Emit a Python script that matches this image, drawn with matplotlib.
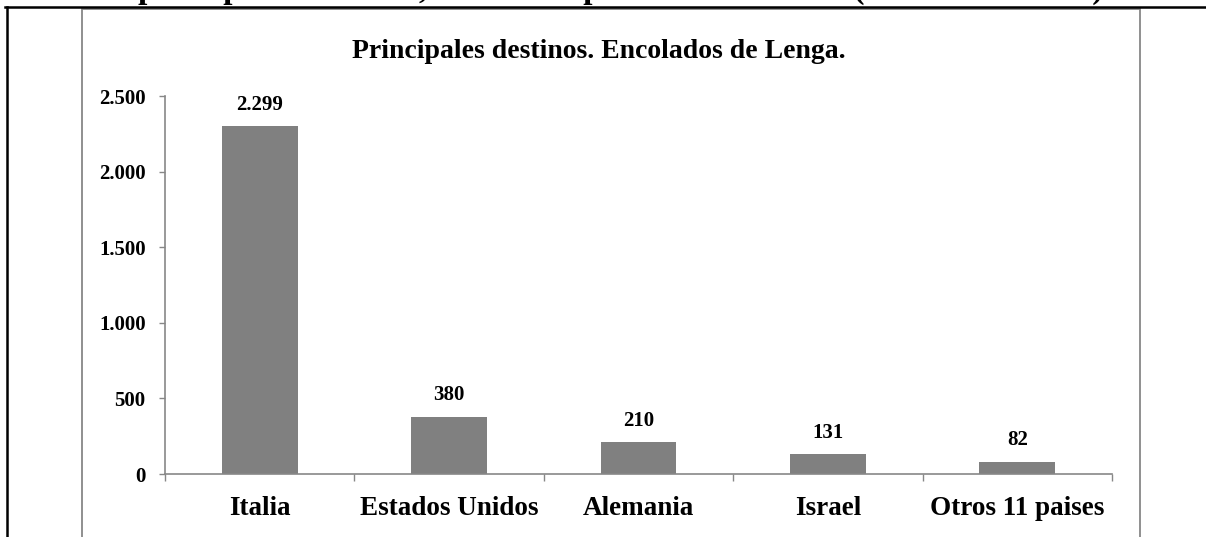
import matplotlib
matplotlib.use("Agg")
import matplotlib.pyplot as plt
from matplotlib.lines import Line2D
from matplotlib.patches import Rectangle

categories = ["Italia", "Estados Unidos", "Alemania", "Israel", "Otros 11 paises"]
values = [2299, 380, 210, 131, 82]
value_labels = ["2.299", "380", "210", "131", "82"]
yticks = [0, 500, 1000, 1500, 2000, 2500]
ytick_labels = ["0", "500", "1.000", "1.500", "2.000", "2.500"]
title = "Principales destinos. Encolados de Lenga."
top_caption = "principales destinos, total en el período 2005-2013 (miles de dólares)."

plt.rcParams['font.family'] = ['Liberation Serif', 'DejaVu Serif']
plt.rcParams['font.weight'] = 'bold'

W, H = 1206, 537
DPI = 100
fig = plt.figure(figsize=(W / DPI, H / DPI), dpi=DPI)

def fx(px):
    return px / W

def fy(py):
    return 1 - py / H

GRAY = "#878787"

# clipped caption at the very top (only its lower part is visible, as in the source)
fig.text(fx(625), fy(-2.5), top_caption, ha="center", va="baseline", fontsize=24,
         fontweight="bold")

# outer table border (black)
fig.add_artist(Line2D([fx(5), fx(1206)], [fy(7), fy(7)], color="black", lw=1.8,
                      transform=fig.transFigure))
fig.add_artist(Line2D([fx(7), fx(7)], [fy(7), fy(540)], color="black", lw=1.8,
                      transform=fig.transFigure))

# chart area border (gray)
fig.add_artist(Rectangle((fx(82), fy(545)), fx(1140) - fx(82), fy(9) - fy(545),
                         fill=False, edgecolor=GRAY, lw=1.3, transform=fig.transFigure))

ax = fig.add_axes([fx(165), fy(474), fx(1112) - fx(165), fy(96) - fy(474)])
x = list(range(len(categories)))
ax.bar(x, values, width=0.4, color="#808080", zorder=2)
ax.set_ylim(0, 2500)
ax.set_xlim(-0.5, len(categories) - 0.5)

ax.set_yticks(yticks)
ax.set_yticklabels(ytick_labels, fontsize=15, fontweight="bold")
ax.tick_params(axis="y", direction="out", length=4, width=1, color=GRAY, pad=10)

ax.set_xticks(x)
ax.set_xticklabels(categories, fontsize=19.5, fontweight="bold")
ax.tick_params(axis="x", which="major", length=0, pad=16)
ax.set_xticks([i - 0.5 for i in range(len(categories) + 1)], minor=True)
ax.tick_params(axis="x", which="minor", direction="out", length=5, width=1, color=GRAY)

for s in ["top", "right"]:
    ax.spines[s].set_visible(False)
for s in ["left", "bottom"]:
    ax.spines[s].set_color(GRAY)
    ax.spines[s].set_linewidth(1.2)

for xi, v, lab in zip(x, values, value_labels):
    ax.annotate(lab, (xi, v), xytext=(0, 8), textcoords="offset points",
                ha="center", va="bottom", fontsize=15, fontweight="bold")

fig.text(fx(599), fy(52), title, ha="center", va="center", fontsize=20,
         fontweight="bold")

fig.savefig("out.png", dpi=DPI, facecolor="white")
